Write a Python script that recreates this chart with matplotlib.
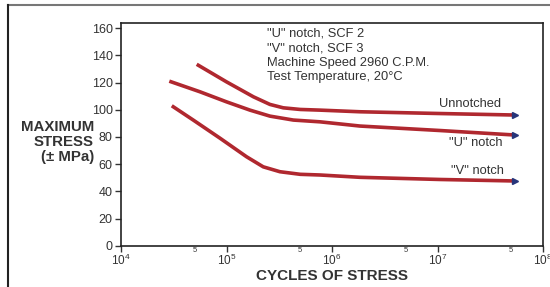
import numpy as np
import matplotlib
matplotlib.use("Agg")
import matplotlib.pyplot as plt
from matplotlib.lines import Line2D

plt.rcParams['font.family'] = ['Liberation Sans', 'DejaVu Sans']
plt.rcParams['mathtext.default'] = 'regular'

# values (cycles, MPa)
unnotched_n = [5.22e4, 1.0e5, 1.8e5, 2.58e5, 3.45e5, 5.0e5, 7.7e5, 1.84e6, 1.06e7, 5.4e7]
unnotched_s = [133.4, 120.5, 109.5, 103.9, 101.4, 100.2, 99.7, 98.5, 97.2, 96.1]

u_notch_n = [2.87e4, 5.6e4, 1.0e5, 1.67e5, 2.58e5, 4.3e5, 7.7e5, 1.84e6, 1.06e7, 5.4e7]
u_notch_s = [121.0, 113.2, 105.8, 99.7, 95.3, 92.4, 91.1, 88.0, 84.7, 81.4]

v_notch_n = [3.03e4, 4.84e4, 8.7e4, 1.55e5, 2.23e5, 3.21e5, 5.0e5, 7.7e5, 1.84e6, 1.06e7, 5.4e7]
v_notch_s = [102.9, 92.4, 79.0, 65.4, 58.0, 54.4, 52.5, 52.0, 50.3, 48.7, 47.6]

curve_labels = ['Unnotched', '"U" notch', '"V" notch']
label_pos = [(4.0e7, 104.1), (4.1e7, 75.5), (4.3e7, 55.1)]

notes = ['"U" notch, SCF 2', '"V" notch, SCF 3',
         'Machine Speed 2960 C.P.M.', 'Test Temperature, 20\u00b0C']

red = '#b0282f'
navy = '#27357a'
grey = '#333333'

fig = plt.figure(figsize=(5.5, 2.87), dpi=100)
ax = fig.add_axes([0.22, 0.1439, 0.7673, 0.777])

for n, s in [(unnotched_n, unnotched_s), (u_notch_n, u_notch_s), (v_notch_n, v_notch_s)]:
    ax.plot(n, s, color=red, lw=2.6, solid_capstyle='butt', solid_joinstyle='round')
    ax.plot(n[-1], s[-1], marker='>', color=navy, ms=4.5, mec=navy)

for txt, (x, y) in zip(curve_labels, label_pos):
    ax.text(x, y, txt, ha='right', va='center', fontsize=9.3, color=grey)

for i, t in enumerate(notes):
    ax.text(0.346, 0.95 - i * 0.065, t, transform=ax.transAxes,
            ha='left', va='center', fontsize=9.3, color=grey)

ax.set_xscale('log')
ax.set_xlim(1e4, 1e8)
ax.set_ylim(0, 164)
ax.set_yticks(np.arange(0, 161, 20))
ax.tick_params(axis='y', direction='out', length=4, width=1, labelsize=9,
               colors=grey, pad=2)

major = [1e4, 1e5, 1e6, 1e7, 1e8]
ax.set_xticks(major)
ax.set_xticklabels(['$10^{%d}$' % k for k in range(4, 9)])
ax.set_xticks([5e4, 5e5, 5e6, 5e7], minor=True)
ax.set_xticklabels(['5'] * 4, minor=True)
ax.tick_params(axis='x', which='major', direction='out', length=4, width=1,
               labelsize=8.5, colors=grey, pad=1)
ax.tick_params(axis='x', which='minor', length=0, labelsize=5.5,
               colors=grey, pad=1)

for sp in ax.spines.values():
    sp.set_color('#222222')
    sp.set_linewidth(1.2)

ax.set_xlabel('CYCLES OF STRESS', fontsize=11, fontweight='bold',
              color=grey, labelpad=1)
fig.text(94 / 550, 1 - 142 / 287, 'MAXIMUM\nSTRESS\n(\u00b1 MPa)',
         ha='right', va='center', multialignment='right', fontsize=10.8,
         fontweight='bold', color=grey, linespacing=1.08)

# outer frame (only top and left edges visible)
fig.add_artist(Line2D([8 / 550, 1.0], [1 - 5 / 287, 1 - 5 / 287],
                      color='#777777', lw=1.5, transform=fig.transFigure))
fig.add_artist(Line2D([8 / 550, 8 / 550], [0, 1 - 5 / 287],
                      color='#222222', lw=1.5, transform=fig.transFigure))

fig.savefig('out.png', dpi=100)
